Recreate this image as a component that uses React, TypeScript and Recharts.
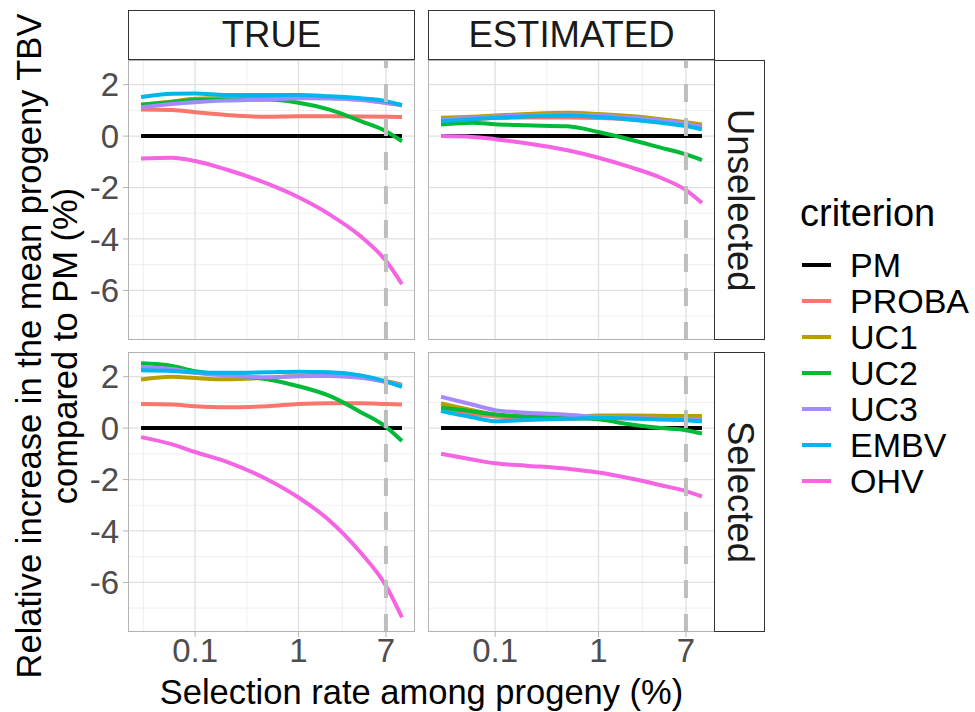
import React from 'react';
import { LineChart, Line, XAxis, YAxis, CartesianGrid, ReferenceLine } from 'recharts';

// selection rates (%) at which the curves are read
const rates = [0.03, 0.06, 0.1, 0.2, 0.5, 1, 2, 4, 7, 10];

const criteria = ['PM', 'PROBA', 'UC1', 'UC2', 'UC3', 'EMBV', 'OHV'];
const colors: Record<string, string> = {
  PM: '#000000',
  PROBA: '#F8766D',
  UC1: '#B79F00',
  UC2: '#00BA38',
  UC3: '#A58AFF',
  EMBV: '#00B6EB',
  OHV: '#F564E3',
};

// TRUE / Unselected
const trueUnsel: Record<string, number[]> = {
  PM: [0, 0, 0, 0, 0, 0, 0, 0, 0, 0],
  PROBA: [1.03, 1.02, 0.93, 0.82, 0.75, 0.77, 0.77, 0.76, 0.75, 0.74],
  UC1: [1.22, 1.35, 1.45, 1.48, 1.48, 1.5, 1.48, 1.42, 1.3, 1.22],
  UC2: [1.22, 1.32, 1.4, 1.4, 1.42, 1.3, 1.03, 0.58, 0.19, -0.2],
  UC3: [1.12, 1.25, 1.32, 1.38, 1.42, 1.47, 1.46, 1.4, 1.29, 1.2],
  EMBV: [1.52, 1.65, 1.66, 1.6, 1.6, 1.6, 1.55, 1.47, 1.36, 1.2],
  OHV: [-0.87, -0.84, -0.97, -1.3, -1.85, -2.38, -3.05, -3.9, -4.85, -5.76],
};

// ESTIMATED / Unselected
const estUnsel: Record<string, number[]> = {
  PM: [0, 0, 0, 0, 0, 0, 0, 0, 0, 0],
  PROBA: [0.6, 0.65, 0.7, 0.72, 0.72, 0.7, 0.65, 0.56, 0.46, 0.38],
  UC1: [0.71, 0.75, 0.8, 0.86, 0.91, 0.86, 0.78, 0.66, 0.54, 0.45],
  UC2: [0.45, 0.52, 0.46, 0.42, 0.38, 0.16, -0.13, -0.45, -0.71, -0.93],
  UC3: [0.65, 0.7, 0.76, 0.8, 0.84, 0.8, 0.72, 0.6, 0.48, 0.36],
  EMBV: [0.58, 0.66, 0.71, 0.76, 0.8, 0.74, 0.65, 0.52, 0.39, 0.26],
  OHV: [0, -0.03, -0.12, -0.28, -0.55, -0.84, -1.2, -1.62, -2.1, -2.6],
};

// TRUE / Selected
const trueSel: Record<string, number[]> = {
  PM: [0, 0, 0, 0, 0, 0, 0, 0, 0, 0],
  PROBA: [0.94, 0.92, 0.85, 0.81, 0.85, 0.94, 0.97, 0.97, 0.94, 0.92],
  UC1: [1.89, 2.0, 1.95, 1.9, 1.96, 2.03, 2.04, 1.98, 1.82, 1.69],
  UC2: [2.52, 2.42, 2.21, 2.08, 1.9, 1.63, 1.25, 0.62, 0.05, -0.5],
  UC3: [2.38, 2.3, 2.15, 2.05, 1.98, 2.02, 2.03, 1.96, 1.79, 1.66],
  EMBV: [2.25, 2.22, 2.17, 2.15, 2.17, 2.19, 2.17, 2.05, 1.82, 1.6],
  OHV: [-0.35, -0.63, -0.93, -1.3, -2.0, -2.7, -3.6, -4.85, -6.13, -7.36],
};

// ESTIMATED / Selected
const estSel: Record<string, number[]> = {
  PM: [0, 0, 0, 0, 0, 0, 0, 0, 0, 0],
  PROBA: [0.7, 0.55, 0.45, 0.38, 0.36, 0.38, 0.38, 0.36, 0.34, 0.33],
  UC1: [0.96, 0.7, 0.53, 0.45, 0.42, 0.49, 0.49, 0.48, 0.47, 0.47],
  UC2: [0.79, 0.65, 0.53, 0.45, 0.4, 0.34, 0.15, 0.0, -0.08, -0.21],
  UC3: [1.22, 0.92, 0.7, 0.6, 0.52, 0.44, 0.4, 0.36, 0.34, 0.34],
  EMBV: [0.66, 0.42, 0.27, 0.32, 0.36, 0.4, 0.37, 0.33, 0.31, 0.27],
  OHV: [-1.0, -1.22, -1.37, -1.46, -1.58, -1.73, -1.95, -2.22, -2.45, -2.66],
};

const xTicks = [0.1, 1, 7];
const xMinor = [0.0316, 0.316, 2.65];
const yTicks = [-6, -4, -2, 0, 2];
const yMinor = [-7, -5, -3, -1, 1];
const threshold = 7;

const colLabels = ['TRUE', 'ESTIMATED'];
const rowLabels = ['Unselected', 'Selected'];

const X_DOMAIN = [0.02244, 13.37];
const Y_DOMAIN = [-7.93, 2.96];

const FONT = '"Liberation Sans", Arial, sans-serif';
const PANEL_W = 287;
const PANEL_H = 280;
const Y_AXIS_W = 70;
const X_AXIS_H = 50;
const panelLeft = [128, 428];
const panelTop = [60, 352];

const toRows = (series: Record<string, number[]>) =>
  rates.map((r, i) => {
    const row: Record<string, number> = { rate: r };
    criteria.forEach((c) => {
      row[c] = series[c][i];
    });
    return row;
  });

const fmtRate = (v: number) => String(v);

function Panel({ series, col, row }: { series: Record<string, number[]>; col: number; row: number }) {
  const showY = col === 0;
  const showX = row === 1;
  const w = PANEL_W + (showY ? Y_AXIS_W : 0);
  const h = PANEL_H + (showX ? X_AXIS_H : 0);
  const left = panelLeft[col] - (showY ? Y_AXIS_W : 0);
  const top = panelTop[row];
  const tickStyle = { fill: '#4D4D4D', fontSize: 33, fontFamily: FONT };
  return (
    <>
      <div style={{ position: 'absolute', left, top }}>
        <LineChart width={w} height={h} data={toRows(series)} margin={{ top: 0, right: 0, bottom: 0, left: 0 }}>
          <CartesianGrid stroke="#EBEBEB" strokeWidth={0.8} horizontalValues={yMinor} verticalValues={xMinor} />
          <CartesianGrid stroke="#E0E0E0" strokeWidth={1.3} horizontalValues={yTicks} verticalValues={xTicks} />
          <XAxis
            dataKey="rate"
            type="number"
            scale="log"
            domain={X_DOMAIN}
            allowDataOverflow
            ticks={xTicks}
            tickFormatter={fmtRate}
            hide={!showX}
            height={X_AXIS_H}
            axisLine={false}
            tickLine={{ stroke: '#B3B3B3' }}
            tickSize={5}
            tickMargin={2}
            tick={tickStyle}
          />
          <YAxis
            type="number"
            domain={Y_DOMAIN}
            allowDataOverflow
            ticks={yTicks}
            hide={!showY}
            width={Y_AXIS_W}
            axisLine={false}
            tickLine={{ stroke: '#B3B3B3' }}
            tickSize={5}
            tickMargin={4}
            tick={tickStyle}
          />
          {criteria.map((c) => (
            <Line
              key={c}
              dataKey={c}
              type="monotone"
              stroke={colors[c]}
              strokeWidth={4}
              dot={false}
              activeDot={false}
              isAnimationActive={false}
            />
          ))}
          <ReferenceLine x={threshold} stroke="#BEBEBE" strokeWidth={4} strokeDasharray="18 16" />
        </LineChart>
      </div>
      <div
        style={{
          position: 'absolute',
          left: panelLeft[col],
          top,
          width: PANEL_W,
          height: PANEL_H,
          boxSizing: 'border-box',
          border: '1px solid #B3B3B3',
          pointerEvents: 'none',
        }}
      />
    </>
  );
}

export default function App() {
  const stripBase: React.CSSProperties = {
    position: 'absolute',
    boxSizing: 'border-box',
    border: '1.5px solid #333333',
    background: '#FFFFFF',
    display: 'flex',
    alignItems: 'center',
    justifyContent: 'center',
    fontSize: 36.5,
    color: '#1A1A1A',
    fontFamily: FONT,
  };
  return (
    <div style={{ position: 'absolute', left: 0, top: 0, width: 975, height: 712, background: '#FFFFFF', fontFamily: FONT, overflow: 'hidden' }}>
      <Panel series={trueUnsel} col={0} row={0} />
      <Panel series={estUnsel} col={1} row={0} />
      <Panel series={trueSel} col={0} row={1} />
      <Panel series={estSel} col={1} row={1} />

      {colLabels.map((lab, i) => (
        <div key={lab} style={{ ...stripBase, left: panelLeft[i], top: 10, width: PANEL_W, height: 50 }}>
          {lab}
        </div>
      ))}
      {rowLabels.map((lab, i) => (
        <div key={lab} style={{ ...stripBase, left: 714, top: panelTop[i], width: 51, height: PANEL_H }}>
          <span style={{ writingMode: 'vertical-rl' }}>{lab}</span>
        </div>
      ))}

      {/* y axis title, two lines rotated */}
      <div
        style={{
          position: 'absolute',
          left: 47 - 360,
          top: 346 - 36,
          width: 720,
          height: 72,
          lineHeight: '36px',
          textAlign: 'center',
          fontSize: 34.5,
          color: '#000',
          transform: 'rotate(-90deg)',
          whiteSpace: 'nowrap',
        }}
      >
        Relative increase in the mean progeny TBV
        <br />
        compared to PM (%)
      </div>

      {/* x axis title */}
      <div style={{ position: 'absolute', left: 128, width: 587, top: 672, textAlign: 'center', fontSize: 34.5, lineHeight: '40px', color: '#000', whiteSpace: 'nowrap' }}>
        Selection rate among progeny (%)
      </div>

      {/* legend */}
      <div style={{ position: 'absolute', left: 800, top: 191, fontSize: 38, lineHeight: '44px', color: '#000' }}>criterion</div>
      {criteria.map((c, i) => (
        <div key={c} style={{ position: 'absolute', left: 800, top: 247 + i * 36, height: 36, display: 'flex', alignItems: 'center' }}>
          <div style={{ width: 29, height: 4, background: colors[c], marginLeft: 2 }} />
          <span style={{ marginLeft: 19, fontSize: 34, color: '#000', lineHeight: '36px' }}>{c}</span>
        </div>
      ))}
    </div>
  );
}
